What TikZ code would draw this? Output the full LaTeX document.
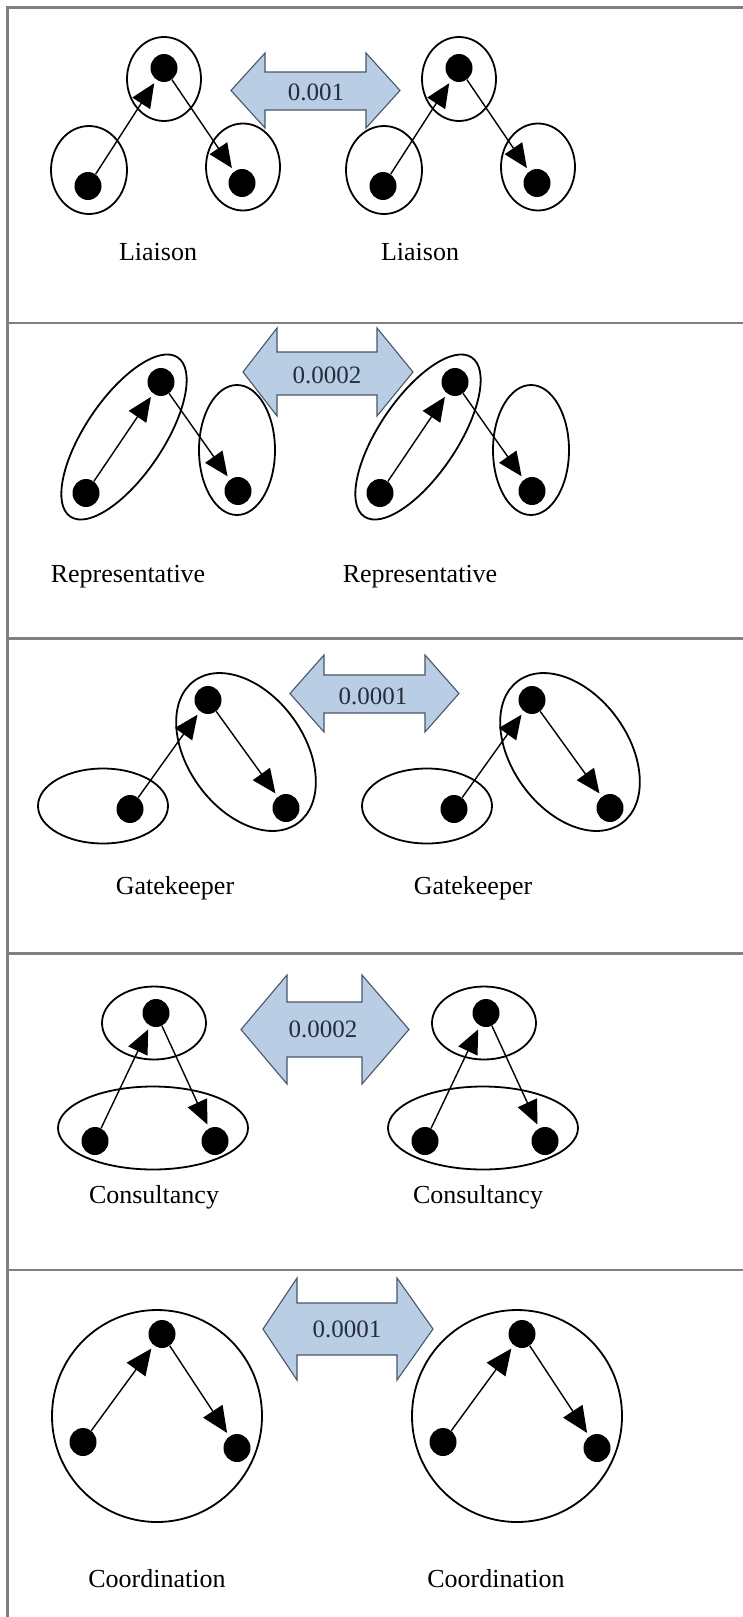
\documentclass[tikz,border=0pt]{standalone}
\usepackage{fontspec}
\setmainfont{Liberation Serif}
\usetikzlibrary{shapes.geometric,arrows.meta}
\definecolor{rulegray}{RGB}{128,128,128}
\definecolor{arrowfill}{RGB}{185,205,228}
\definecolor{arrowedge}{RGB}{72,86,106}
\definecolor{numtext}{RGB}{35,45,60}

\begin{document}
\begin{tikzpicture}[x=1pt,y=-1pt,
  frame/.style={draw=rulegray,line width=2.4pt},
  dot/.style={ellipse,fill=black,inner sep=0pt,minimum width=27pt,minimum height=28pt},
  grp/.style={ellipse,draw=black,line width=1.8pt,inner sep=0pt},
  tie/.style={line width=1.4pt,-{Triangle[length=24pt,width=21pt]},shorten >=4pt},
  bigtie/.style={line width=1.4pt,-{Triangle[length=26pt,width=23pt]},shorten >=4pt},
  dbl/.style={draw=arrowedge,line width=1.1pt,fill=arrowfill,line join=miter},
  num/.style={font=\fontsize{25}{28}\selectfont,text=numtext},
  role/.style={font=\fontsize{26}{30}\selectfont}]

\useasboundingbox (0,0) rectangle (743,1617);

% table frame and row separators
\draw[frame] (7.5,1625) -- (7.5,7.5) -- (750,7.5);
\foreach \yy in {323,638.5,953.5,1270}
  \draw[frame] (7.5,\yy) -- (750,\yy);

% ---------- Liaison ----------
\foreach \s/\dx in {L/0,R/295}{
  \begin{scope}[xshift=\dx]
    \node[grp,minimum width=74pt,minimum height=84pt] (a\s gt) at (164,79) {};
    \node[grp,minimum width=76pt,minimum height=88pt] (a\s gl) at (89,170) {};
    \node[grp,minimum width=74pt,minimum height=87pt] (a\s gr) at (243,167) {};
    \node[dot] (a\s t) at (164,68) {};
    \node[dot] (a\s l) at (88,186) {};
    \node[dot] (a\s r) at (242,183) {};
    \draw[tie] (a\s l) -- (a\s t);
    \draw[tie] (a\s t) -- (a\s r);
  \end{scope}
}
\draw[dbl] (231,90.5) -- (265,53) -- (265,72) -- (366,72) -- (366,53) -- (400,90.5)
  -- (366,128) -- (366,110) -- (265,110) -- (265,128) -- cycle;
\node[num] (av) at (316,92) {0.001};
\node[role] (aLn) at (158,252) {Liaison};
\node[role] (aRn) at (420,252) {Liaison};

% ---------- Representative ----------
\foreach \s/\dx in {L/0,R/294}{
  \begin{scope}[xshift=\dx]
    \node[grp,minimum width=192pt,minimum height=78pt,rotate=56] (b\s gt) at (124,437) {};
    \node[grp,minimum width=76pt,minimum height=130pt] (b\s gr) at (237,450) {};
    \node[dot] (b\s t) at (161,382) {};
    \node[dot] (b\s l) at (86,493) {};
    \node[dot] (b\s r) at (238,491) {};
    \draw[tie] (b\s l) -- (b\s t);
    \draw[tie] (b\s t) -- (b\s r);
  \end{scope}
}
\draw[dbl] (243,372) -- (277,328) -- (277,352) -- (377,352) -- (377,328) -- (413,372)
  -- (377,416) -- (377,395) -- (277,395) -- (277,416) -- cycle;
\node[num] (bv) at (327,375) {0.0002};
\node[role] (bLn) at (128,577) {Representative};
\node[role] (bRn) at (420,577) {Representative};

% ---------- Gatekeeper ----------
\foreach \s/\dx in {L/0,R/324}{
  \begin{scope}[xshift=\dx]
    \node[grp,minimum width=130pt,minimum height=75pt] (c\s gl) at (103,806) {};
    \node[grp,minimum width=176pt,minimum height=116pt,rotate=-54] (c\s gt) at (246,752) {};
    \node[dot] (c\s t) at (208,700) {};
    \node[dot] (c\s l) at (130,809) {};
    \node[dot] (c\s r) at (286,808) {};
    \draw[tie] (c\s l) -- (c\s t);
    \draw[tie] (c\s t) -- (c\s r);
  \end{scope}
}
\draw[dbl] (290,693.5) -- (324,655) -- (324,675) -- (425,675) -- (425,655) -- (459,693.5)
  -- (425,732) -- (425,713) -- (324,713) -- (324,732) -- cycle;
\node[num] (cv) at (373,696) {0.0001};
\node[role] (cLn) at (175,888) {Gatekeeper};
\node[role] (cRn) at (473,888) {Gatekeeper};

% ---------- Consultancy ----------
\foreach \s/\dx in {L/0,R/330}{
  \begin{scope}[xshift=\dx]
    \node[grp,minimum width=104pt,minimum height=73pt] (d\s gt) at (154,1023) {};
    \node[grp,minimum width=190pt,minimum height=83pt] (d\s gb) at (153,1128) {};
    \node[dot] (d\s t) at (156,1013) {};
    \node[dot] (d\s l) at (95,1141) {};
    \node[dot] (d\s r) at (215,1141) {};
    \draw[tie] (d\s l) -- (d\s t);
    \draw[tie] (d\s t) -- (d\s r);
  \end{scope}
}
\draw[dbl] (241,1029.5) -- (287,975) -- (287,1002) -- (362,1002) -- (362,975) -- (409,1029.5)
  -- (362,1084) -- (362,1057) -- (287,1057) -- (287,1084) -- cycle;
\node[num] (dv) at (323,1029) {0.0002};
\node[role] (dLn) at (154,1197) {Consultancy};
\node[role] (dRn) at (478,1197) {Consultancy};

% ---------- Coordination ----------
\foreach \s/\dx in {L/0,R/360}{
  \begin{scope}[xshift=\dx]
    \node[grp,minimum width=210pt,minimum height=212pt] (e\s g) at (157,1416) {};
    \node[dot] (e\s t) at (162,1334) {};
    \node[dot] (e\s l) at (83,1442) {};
    \node[dot] (e\s r) at (237,1448) {};
    \draw[bigtie] (e\s l) -- (e\s t);
    \draw[bigtie] (e\s t) -- (e\s r);
  \end{scope}
}
\draw[dbl] (263,1329) -- (297,1278) -- (297,1303) -- (397,1303) -- (397,1278) -- (433,1329)
  -- (397,1380) -- (397,1355) -- (297,1355) -- (297,1380) -- cycle;
\node[num] (ev) at (347,1329) {0.0001};
\node[role] (eLn) at (157,1579) {Coordination};
\node[role] (eRn) at (496,1579) {Coordination};

\end{tikzpicture}
\end{document}
